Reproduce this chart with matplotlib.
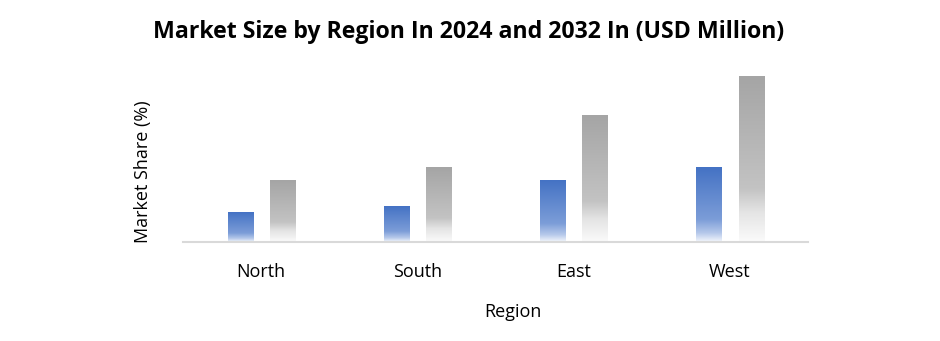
import matplotlib.pyplot as plt
import numpy as np
from matplotlib.colors import LinearSegmentedColormap

regions = ["North", "South", "East", "West"]
vals_2024 = [30, 36, 62, 75]
vals_2032 = [62, 75, 127, 166]

plt.rcParams['font.family'] = ['Open Sans', 'DejaVu Sans']

fig = plt.figure(figsize=(9.4, 3.41), dpi=100)
ax = fig.add_axes([0.1947, 0.2903, 0.665, 0.5277])

# gradient colormaps: bottom (0) -> top (1)
blue_cmap = LinearSegmentedColormap.from_list(
    "blue", [(0.0, "#f4f7fc"), (0.12, "#b5c8ea"), (0.3, "#7c9dd8"), (1.0, "#4472c4")])
gray_cmap = LinearSegmentedColormap.from_list(
    "gray", [(0.0, "#fbfbfb"), (0.18, "#e4e4e4"), (0.32, "#c3c3c3"), (1.0, "#a5a5a5")])

grad = np.linspace(0, 1, 256).reshape(-1, 1)
w = 0.16
x = np.arange(len(regions))

for i in range(len(regions)):
    for off, v, cm in [(-0.135, vals_2024[i], blue_cmap), (0.135, vals_2032[i], gray_cmap)]:
        x0 = x[i] + off - w / 2
        ax.imshow(grad, cmap=cm, origin="lower", aspect="auto",
                  extent=[x0, x0 + w, 0, v], zorder=2)

ax.set_xlim(-0.5, 3.5)
ax.set_ylim(0, 180)
ax.set_xticks(x)
ax.set_xticklabels(regions, fontsize=13)
ax.set_yticks([])
ax.tick_params(axis="x", length=0, pad=15)
for s in ["top", "right", "left"]:
    ax.spines[s].set_visible(False)
ax.spines["bottom"].set_color("#d9d9d9")
ax.spines["bottom"].set_linewidth(1.5)

ax.set_xlabel("Region", fontsize=13, va="center")
ax.xaxis.set_label_coords(0.528, -0.389)
ax.set_ylabel("Market Share (%)", fontsize=13, va="center")
ax.yaxis.set_label_coords(-0.064, 0.39)
fig.text(0.499, 1 - 32 / 341, "Market Size by Region In 2024 and 2032 In (USD Million)",
         fontsize=16.7, fontweight="bold", ha="center", va="center")

fig.savefig("out.png", dpi=100)
